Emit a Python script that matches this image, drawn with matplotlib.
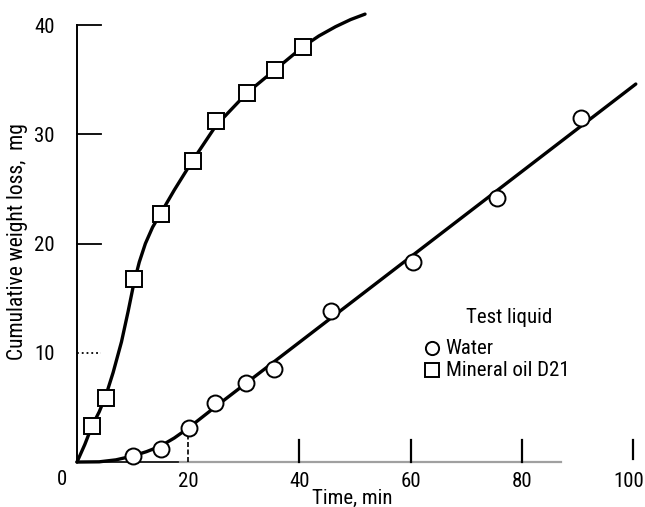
import matplotlib
matplotlib.use("Agg")
import matplotlib.pyplot as plt
from matplotlib import font_manager
from matplotlib.transforms import ScaledTranslation

_ttf = font_manager.fontManager.ttflist
_names = {f.name for f in _ttf}
_pref = ['Roboto Condensed', 'Liberation Sans Narrow', 'Open Sans Condensed', 'DejaVu Sans Condensed',
         'Noto Sans Display Condensed']
_chosen = next((n for n in _pref if n in _names), None)
if _chosen:
    plt.rcParams['font.family'] = [_chosen, 'DejaVu Sans']
    FS = 15
else:
    _c = [f for f in _ttf if f.name in ('DejaVu Sans', 'Roboto', 'Noto Sans', 'Open Sans')
          and str(f.stretch) in ('condensed', 'semi-condensed') and f.weight in (400, 'normal', 'regular')]
    if _c:
        plt.rcParams['font.family'] = [_c[0].name, 'DejaVu Sans']
        plt.rcParams['font.stretch'] = str(_c[0].stretch)
        FS = 15
    else:
        plt.rcParams['font.family'] = ['DejaVu Sans']
        FS = 12

# ---- data ----
water_t = [10.1, 15.1, 20.1, 24.8, 30.4, 35.4, 45.7, 60.4, 75.5, 90.6]
water_w = [0.55, 1.2, 3.1, 5.4, 7.2, 8.5, 13.8, 18.3, 24.2, 31.5]
oil_t = [2.7, 5.2, 10.2, 15.1, 20.8, 25.0, 30.6, 35.6, 40.6]
oil_w = [3.3, 5.9, 16.8, 22.7, 27.6, 31.2, 33.8, 35.9, 38.0]

# faired curves
water_curve_t = [0, 4, 7, 10, 12.5, 15, 17.5, 20, 22.5, 25, 100.5]
water_curve_w = [0, 0.02, 0.2, 0.55, 0.95, 1.45, 2.2, 3.1, 4.1, 5.1, 34.6]
oil_curve_t = [0, 1.4, 2.7, 4.0, 5.2, 6.5, 8.0, 9.2, 10.2, 11.2, 12.3, 13.6, 15.1, 17.5, 20.8,
               25.0, 30.6, 35.6, 40.6, 43.5, 46.5, 49.2, 51.8]
oil_curve_w = [0, 1.6, 3.3, 4.6, 6.1, 8.2, 11.0, 13.8, 16.3, 18.3, 20.0, 21.5, 22.8, 24.9, 27.6,
               30.8, 33.8, 35.9, 38.0, 39.0, 39.85, 40.5, 41.0]

x_ticks = [20, 40, 60, 80, 100]
y_ticks = [10, 20, 30, 40]
legend_title = "Test liquid"
legend_labels = ["Water", "Mineral oil D21"]

fig = plt.figure(figsize=(6.45, 5.07), dpi=100)
ax = fig.add_axes([71.44 / 645, (507 - 467.5) / 507, 572.7 / 645, 464.3 / 507])
ax.set_xlim(-1, 102)
ax.set_ylim(-0.5, 42)
for s in ax.spines.values():
    s.set_visible(False)

ax.set_xticks(x_ticks)
ax.set_xticklabels([str(v) for v in x_ticks])
ax.set_yticks(y_ticks)
ax.set_yticklabels([str(v) for v in y_ticks])
ax.tick_params(axis='x', length=0, pad=3, labelsize=FS)
ax.tick_params(axis='y', length=0, pad=12, labelsize=FS)
for lab in ax.get_xticklabels():
    if lab.get_text() == "100":
        lab.set_transform(lab.get_transform() + ScaledTranslation(-3 / 72, 0, fig.dpi_scale_trans))
ax.text(-2.7, -0.7, "0", ha='center', va='top', fontsize=FS, clip_on=False)

# axis lines
ax.plot([0, 0], [0, 40], color='black', lw=1.4, clip_on=False, zorder=2)
ax.plot([0, 18.5], [0, 0], color='black', lw=1.2, clip_on=False, zorder=2)
ax.plot([18.5, 87], [0, 0], color='#a0a0a0', lw=1.6, clip_on=False, zorder=2)
# y ticks (inside, pointing right)
for v in y_ticks:
    ax.plot([0, 4.3], [v, v], color='black', lw=1.3, ls=(':' if v == 10 else '-'), zorder=2)
# x ticks (upward)
for v in x_ticks[1:]:
    ax.plot([v, v], [0.3 if v == 100 else 0, 2.0], color='black', lw=1.6, zorder=2)
ax.plot([20, 20], [0, 2.3], color='black', lw=1.2, ls=(0, (3, 1.5)), zorder=2)

# curves
ax.plot(water_curve_t, water_curve_w, color='black', lw=2.4, solid_capstyle='round',
        solid_joinstyle='round', zorder=3)
ax.plot(oil_curve_t, oil_curve_w, color='black', lw=2.4, solid_capstyle='round',
        solid_joinstyle='round', zorder=3)
ax.plot(water_t, water_w, ls='none', marker='o', ms=11.5, mfc='white', mec='black', mew=1.4,
        zorder=4)
ax.plot(oil_t, oil_w, ls='none', marker='s', ms=11.5, mfc='white', mec='black', mew=1.4,
        zorder=4)

# legend (manual)
ax.text(77.7, 13.2, legend_title, ha='center', va='center', fontsize=FS)
ax.plot([63.8], [10.43], marker='o', ms=9.5, mfc='white', mec='black', mew=1.4, ls='none')
ax.plot([63.8], [8.42], marker='s', ms=9.5, mfc='white', mec='black', mew=1.4, ls='none')
ax.text(66.3, 10.43, legend_labels[0], ha='left', va='center', fontsize=FS)
ax.text(66.3, 8.42, legend_labels[1], ha='left', va='center', fontsize=FS)

fig.text(352 / 645, 1 - 498 / 507, "Time, min", ha='center', va='center', fontsize=FS)
fig.text(18 / 645, 1 - 242 / 507, "Cumulative weight loss,  mg", ha='center', va='center',
         rotation=90, fontsize=FS + 0.5)

fig.savefig("out.png", dpi=100)
